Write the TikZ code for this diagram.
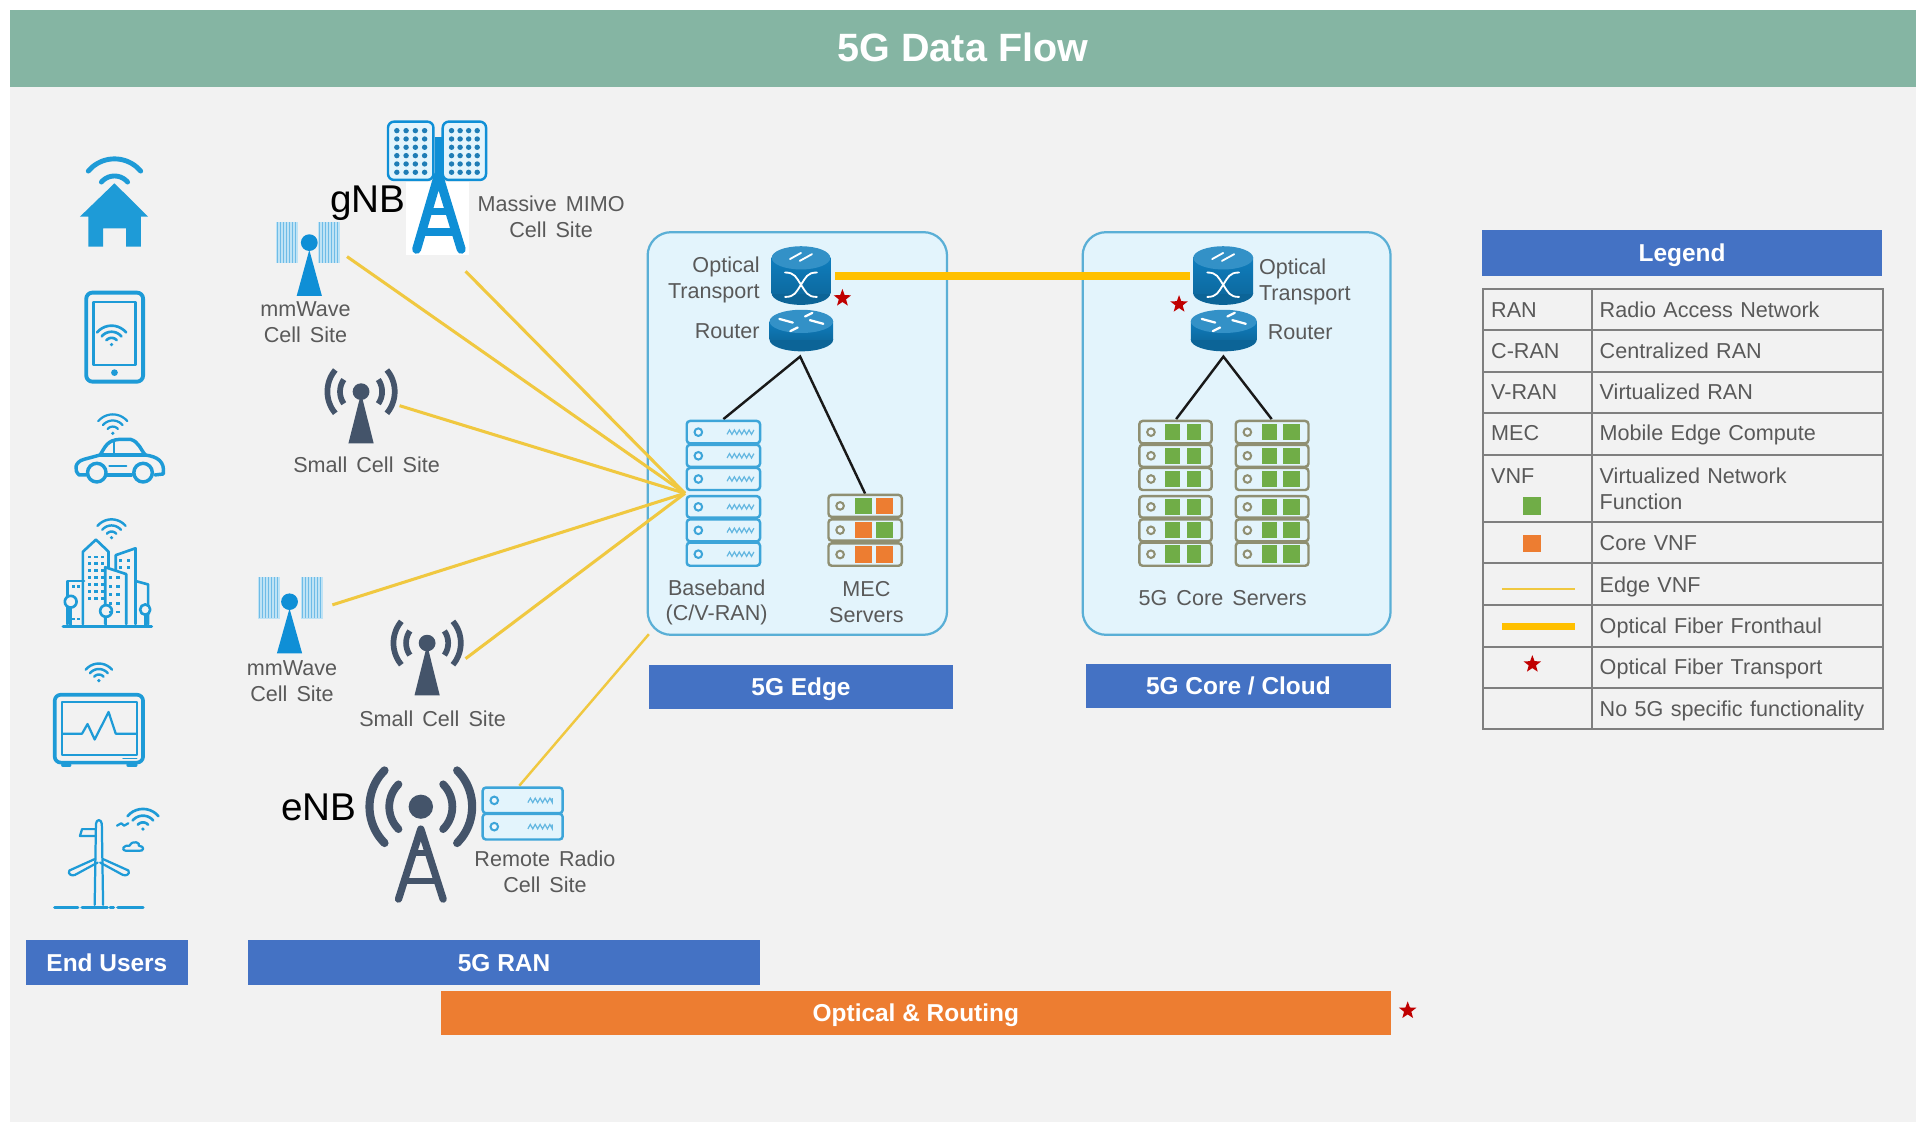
\documentclass[tikz,border=0pt]{standalone}
\usepackage{fontspec}
\setmainfont{Liberation Sans}
\usetikzlibrary{shapes.geometric}
\definecolor{bgc}{HTML}{F2F2F2}
\definecolor{headc}{HTML}{85B5A3}
\definecolor{sect}{HTML}{4472C4}
\definecolor{orng}{HTML}{ED7D31}
\definecolor{grn}{HTML}{70AD47}
\definecolor{icb}{HTML}{1E9BD7}
\definecolor{twr}{HTML}{0F8FD6}
\definecolor{cyl}{HTML}{0F7DBD}
\definecolor{slatec}{HTML}{44546A}
\definecolor{lblc}{HTML}{595959}
\definecolor{boxf}{HTML}{E3F4FC}
\definecolor{boxd}{HTML}{5AAFD6}
\definecolor{fanc}{HTML}{F0C840}
\definecolor{fibre}{HTML}{FFC000}
\definecolor{starc}{HTML}{C00000}
\definecolor{gridc}{HTML}{7F7F7F}
\definecolor{srvg}{HTML}{8F8F72}
\definecolor{srvb}{HTML}{3DA5D9}
\definecolor{panelc}{HTML}{BFE3F5}
\newcommand\lblfont{\fontsize{10.6}{12.6}\selectfont\spaceskip=.42em plus .1em\relax}
\newcommand\lgfont{\fontsize{10.6}{12.6}\selectfont\spaceskip=.34em plus .1em\relax}
\newcommand\sectbox[7]{\fill[#6] (#2,#3) rectangle (#4,#5) node[midway,sectlbl] (#1) {#7};}
% arc in the current xy system (y pointing down)
\newcommand\arcq[7][]{\draw[#1] plot[domain=#6:#7,samples=11,smooth] ({#2+#4*cos(\x)},{#3-#5*sin(\x)});}
\newcommand\wifiicon[4]{\foreach \rr in {#3}{\arcq[icb,line width=#4,line cap=round]{#1}{#2}{\rr}{\rr}{40}{140}}\fill[icb] (#1,#2) circle[radius=1.5];}
% server row: x1,y1,x2,y2,colour
\newcommand\srow[5]{\draw[#5,line width=1.2pt,rounded corners=1.6pt,fill=boxf] (#1,#2) rectangle (#3,#4);
  \draw[#5,line width=1pt,fill=white!40!boxf] ({#1+9.5},{(#2+#4)/2}) circle[radius=3.1];}
\newcommand\squig[3]{\draw[srvb!80,line width=.6pt] (#1,{#3+1.8}) -- ++(2,-3.6) -- ++(2,3.6) -- ++(2,-3.6) -- ++(2,3.6) -- ++(2,-3.6) -- ++(2,3.6) -- ++(2,-3.6) -- ++(2,3.6) -- ++(2,-3.6) -- ++(2,3.6) -- (#2,{#3-1.8});}
\newcommand\sq[5]{\fill[#5] (#1,{#2}) rectangle (#3,{#4});}
\newcommand\cylin[6]{\fill[#6!80!black] (#1,#3) ellipse[x radius=#4,y radius=#5];
  \shade[top color=#6,bottom color=#6!85!black] ({#1-#4},#2) rectangle ({#1+#4},#3);
  \fill[#6!85!white] (#1,#2) ellipse[x radius=#4,y radius=#5];}
\newcommand\opticalmark[2]{\begin{scope}[shift={(#1,#2)},white,line width=.9pt,line cap=round]
  \draw (-9,-24) -- (0,-29); \draw (-1,-22.5) -- (9,-28);
  \draw (-13,-13) .. controls (-5,-13) and (-4,-9) .. (0,-3) .. controls (4,3) and (5,7) .. (13,7);
  \draw (13,-13) .. controls (5,-13) and (4,-9) .. (0,-3) .. controls (-4,3) and (-5,7) .. (-13,7);
  \end{scope}}
\newcommand\routermark[2]{\begin{scope}[shift={(#1,#2)},white,line width=1.1pt,line cap=round]
  \draw (-18,-2) -- (-7,1); \draw (18,2) -- (7,-1); \draw (-3,5) -- (-9,8); \draw (3,-4) -- (9,-7);
  \end{scope}}
\tikzset{
  lbl/.style={font=\lblfont,text=lblc,align=center,inner sep=0},
  lgl/.style={font=\lgfont,text=lblc,inner sep=0,anchor=base west,yshift=-3.5pt},
  sectlbl/.style={font=\fontsize{12}{14}\selectfont\bfseries,text=white,inner sep=0,text height=.72em,text depth=.2em,yshift=-1.7pt},
  fanline/.style={fanc,line width=1.5pt},
  fibreline/.style={fibre,line width=4pt},
  linkline/.style={black!90,line width=1.2pt},
  cellbox/.style={draw=boxd,fill=boxf,line width=1.1pt,rounded corners=11.5pt},
  gridline/.style={gridc,line width=1pt},
  redstar/.style={star,star points=5,star point ratio=2.4,fill=starc,inner sep=0,minimum size=9pt},
  bignb/.style={font=\fontsize{19}{22}\selectfont,text=black,inner sep=0},
  iconline/.style={icb,line width=1.7pt,line cap=round,line join=round},
}
\begin{document}
\begin{tikzpicture}[x=0.6pt,y=-0.6pt]
\useasboundingbox (0,0) rectangle (1568,918);
\fill[white] (0,0) rectangle (1568,918);
\fill[bgc] (8,8) rectangle (1568,918);
\fill[headc] (8,8) rectangle (1568,71) node[midway,yshift=.5pt,font=\fontsize{19.4}{22}\selectfont\bfseries,text=white,inner sep=0] (title) {5G Data Flow};

% bars
\sectbox{endusers}{21}{769}{154}{806}{sect}{End Users}
\sectbox{ranbar}{203}{769}{622}{806}{sect}{5G RAN}
\sectbox{optbar}{361}{811}{1138}{847}{orng}{Optical \& Routing}
\sectbox{edgebar}{531}{544}{780}{580}{sect}{5G Edge}
\sectbox{corebar}{889}{543}{1138}{579}{sect}{5G Core / Cloud}
\sectbox{legendbar}{1213}{188}{1540}{226}{sect}{Legend}
\node[redstar] (starbar) at (1152,827) {};

% cloud boxes
\draw[cellbox] (530,190) rectangle (775,519.5);
\draw[cellbox] (886,190) rectangle (1138,519.5);

% fan-in lines
\coordinate (fan) at (560.6,403.7);
\coordinate (mm1) at (284,210);
\coordinate (mimo) at (381,222);
\coordinate (sc1) at (327,332);
\coordinate (mm2) at (272,495);
\coordinate (sc2) at (381,539);
\coordinate (rrh) at (425,643);
\coordinate (edgecorner) at (531,519);
\foreach \s in {mm1,mimo,sc1,mm2,sc2} {\draw[fanline] (\s) -- (fan);}
\draw[fanc,line width=1.2pt] (rrh) -- (edgecorner);

% ---------- icons of upper zoom ----------
\begin{scope}[shift={(0,81.8)},x=0.20664pt,y=-0.16368pt]
  % house
  \fill[icb] (272,250) -- (190,350) -- (210,350) -- (210,440) -- (245,440) -- (245,385) -- (300,385) -- (300,440) -- (335,440) -- (335,350) -- (352,350) -- cycle;
  % phone
  \draw[iconline,line width=1.9pt,rounded corners=3pt] (205,578) rectangle (340,845);
  \draw[iconline,line width=1.1pt] (222,605) rectangle (322,795);
  \fill[icb] (272,818) ellipse[x radius=8,y radius=10];
  % car
  \draw[iconline] (205,1125) -- (188,1125) .. controls (175,1110) and (178,1085) .. (200,1078) -- (238,1065) .. controls (250,1040) and (255,1020) .. (285,1018) -- (310,1018) .. controls (330,1025) and (335,1050) .. (345,1065) .. controls (375,1070) and (392,1085) .. (388,1122) -- (368,1125);
  \draw[iconline] (255,1125) -- (312,1125);
  \draw[iconline] (238,1065) -- (345,1065);
  \draw[iconline,line width=1pt] (270,1022) -- (270,1062);
  \draw[iconline,line width=1.2pt] (260,1098) -- (300,1098);
  \draw[iconline] (230,1118) ellipse[x radius=22,y radius=28];
  \draw[iconline] (340,1118) ellipse[x radius=22,y radius=28];
  % gNB MIMO
  \fill[white] (965,245) rectangle (1115,465);
  \draw[twr,line width=3pt] (1042,110) -- (1042,215);
  \foreach \a/\b in {922/1030,1052/1155} {
    \draw[twr,line width=1.2pt,rounded corners=3pt,fill=boxf] (\a,65) rectangle (\b,240);
    \foreach \c in {0,1,2,3} \foreach \d in {0,...,5}
      \fill[twr!70!slatec] ({\a+21+\c*(\b-\a-42)/3},{92+\d*25}) ellipse[x radius=6.5,y radius=8];
  }
  \draw[twr,line width=4.4pt,line cap=round,line join=round] (990,448) -- (1042,225) -- (1096,448);
  \draw[twr,line width=3.2pt] (1012,335) -- (1072,335);
  \draw[twr,line width=3.8pt] (1000,395) -- (1084,395);
  % mmWave 1
  \foreach \a/\b in {655/708,755/808} {
    \fill[panelc] (\a,365) rectangle (\b,490);
    \foreach \c in {0,...,6} \draw[twr!60,line width=.3pt] ({\a+4+\c*7},367) -- ++(0,121);
  }
  \fill[twr] (735,450) -- (705,588) -- (765,588) -- cycle;
  \fill[twr] (735,428) ellipse[x radius=20,y radius=25];
  % small cell 1
  \fill[slatec] (858,880) -- (828,1030) -- (888,1030) -- cycle;
  \fill[slatec] (858,875) ellipse[x radius=20,y radius=25];
  \arcq[slatec,line width=2.8pt]{858}{875}{50}{63}{-35}{35}
  \arcq[slatec,line width=2.8pt]{858}{875}{50}{63}{145}{215}
  \arcq[slatec,line width=2.8pt]{858}{875}{80}{101}{-40}{40}
  \arcq[slatec,line width=2.8pt]{858}{875}{80}{101}{140}{220}
\end{scope}
\wifiicon{93.7}{158}{14,28}{2.4pt}
\wifiicon{91.3}{282}{5.5,10.5,15.5}{1.3pt}
\wifiicon{92.3}{354.6}{5.5,10.5,15.5}{1.1pt}

% ---------- icons of lower zoom ----------
\begin{scope}[shift={(0,409.2)},x=0.20664pt,y=-0.1692pt]
  % city
  \begin{scope}[iconline,line width=1.3pt]
    \draw[line width=1.6pt] (150,368) -- (360,368);
    \draw (160,360) -- (160,235) -- (200,235);
    \draw (197,360) -- (197,150) -- (228,115) -- (258,150) -- (258,195);
    \draw (250,360) -- (250,195) -- (300,215) -- (300,360);
    \draw (275,205) -- (275,160) -- (322,140) -- (322,360);
    \draw (322,235) -- (352,245) -- (352,360);
    \draw[fill=bgc] (168,295) ellipse[x radius=14,y radius=17]; \draw (168,312) -- (168,362);
    \draw[fill=bgc] (252,322) ellipse[x radius=14,y radius=17]; \draw (252,339) -- (252,362);
    \draw[fill=bgc] (345,318) ellipse[x radius=12,y radius=15]; \draw (345,333) -- (345,362);
    \foreach \u in {212,228,244} \foreach \v in {165,185,205,225,245,265,285} \fill[icb] (\u-4,\v-4) rectangle ++(8,8);
    \foreach \u in {262,280} \foreach \v in {225,250,275,300,325} \fill[icb] (\u-4,\v-4) rectangle ++(8,8);
    \foreach \u in {286,306} \foreach \v in {175,195} \fill[icb] (\u-4,\v-4) rectangle ++(8,8);
    \foreach \u in {174,186} \foreach \v in {250,345} \fill[icb] (\u-4,\v-4) rectangle ++(8,8);
  \end{scope}
  % monitor
  \draw[iconline,line width=1.8pt,rounded corners=3pt] (130,565) rectangle (340,762);
  \draw[iconline,line width=1pt] (148,585) rectangle (325,740);
  \draw[iconline,line width=1.1pt] (150,678) -- (195,678) -- (208,650) -- (225,695) -- (258,615) -- (275,678) -- (324,678);
  \draw[iconline,line width=2pt] (150,770) -- (165,770); \draw[iconline,line width=2pt] (305,770) -- (322,770);
  \draw[iconline,line width=.6pt] (292,750) -- (325,750);
  % wind turbine
  \begin{scope}[iconline,line width=1.1pt]
    \draw (225,1175) -- (228,940) .. controls (229,925) and (241,925) .. (242,940) -- (245,1175);
    \draw (225,1042) -- (165,1075) .. controls (160,1085) and (170,1092) .. (178,1088) -- (232,1052);
    \draw (245,1042) -- (305,1075) .. controls (310,1085) and (300,1092) .. (292,1088) -- (238,1052);
    \draw (228,955) -- (195,955) -- (190,975) -- (228,975);
    \draw (300,1018) .. controls (285,1015) and (295,1000) .. (308,1003) .. controls (315,985) and (335,995) .. (330,1003) .. controls (345,1005) and (342,1020) .. (330,1018) -- cycle;
    \draw (278,945) -- (288,938) -- (295,945) -- (305,938);
  \end{scope}
  \foreach \a/\b in {130/185,195/255,262/270,280/340} \draw[iconline,line width=1.6pt] (\a,1182) -- (\b,1182);
  % mmWave 2
  \foreach \a/\b in {612/665,715/768} {
    \fill[panelc] (\a,222) rectangle (\b,345);
    \foreach \c in {0,...,6} \draw[twr!60,line width=.3pt] ({\a+4+\c*7},224) -- ++(0,119);
  }
  \fill[twr] (688,315) -- (658,445) -- (718,445) -- cycle;
  \fill[twr] (688,295) ellipse[x radius=20,y radius=24];
  % small cell 2
  \fill[slatec] (1015,420) -- (985,567) -- (1045,567) -- cycle;
  \fill[slatec] (1015,415) ellipse[x radius=20,y radius=24];
  \arcq[slatec,line width=2.8pt]{1015}{415}{50}{61}{-35}{35}
  \arcq[slatec,line width=2.8pt]{1015}{415}{50}{61}{145}{215}
  \arcq[slatec,line width=2.8pt]{1015}{415}{80}{98}{-40}{40}
  \arcq[slatec,line width=2.8pt]{1015}{415}{80}{98}{140}{220}
  % eNB
  \fill[slatec] (1000,890) ellipse[x radius=29,y radius=35];
  \draw[slatec,line width=3.6pt,line cap=round,line join=round] (947,1158) -- (1000,955) -- (1053,1158);
  \draw[slatec,line width=3pt] (975,1025) -- (1025,1025);
  \draw[slatec,line width=3pt] (960,1105) -- (1040,1105);
  \arcq[slatec,line width=3.8pt,line cap=round]{1000}{890}{75}{92}{-45}{45}
  \arcq[slatec,line width=3.8pt,line cap=round]{1000}{890}{75}{92}{135}{225}
  \arcq[slatec,line width=4pt,line cap=round]{1000}{890}{122}{149}{-45}{45}
  \arcq[slatec,line width=4pt,line cap=round]{1000}{890}{122}{149}{135}{225}
\end{scope}
\wifiicon{91.3}{440}{5,10,15}{1.2pt}
\wifiicon{80.9}{557}{5,9.5,14}{1.2pt}
\wifiicon{117}{678.5}{5.5,11,16.5}{1.3pt}

% remote radio unit
\srow{395}{644.5}{460.5}{665.5}{srvb}
\srow{395}{666}{460.5}{687}{srvb}
\squig{432}{452}{655}
\squig{432}{452}{676.5}

% labels RAN
\node[bignb] (gnb) at (301,166) {gNB};
\node[bignb] (enb) at (261,661) {eNB};
\node[lbl] (l1) at (451,177.5) {Massive MIMO\\Cell Site};
\node[lbl] (l2) at (250,263.5) {mmWave\\Cell Site};
\node[lbl] (l3) at (300,380) {Small Cell Site};
\node[lbl] (l4) at (239,557.5) {mmWave\\Cell Site};
\node[lbl] (l5) at (354,588) {Small Cell Site};
\node[lbl] (l6) at (446,713.5) {Remote Radio\\Cell Site};

% edge: router and servers
\coordinate (edgertr) at (654.8,291.8);
\coordinate (bbtop) at (592,343);
\coordinate (mectop) at (708,404);
\draw[linkline] (bbtop) -- (edgertr) -- (mectop);
\foreach \a/\b in {344.5/362.8,364/382,383/401,406/423.6,425/443,444/463} {
  \srow{562}{\a}{622}{\b}{srvb}
  \squig{595}{617}{(\a+\b)/2}
}
\foreach \a/\b/\c/\d in {405/423/grn/orng,425/442.5/orng/grn,444.6/463/orng/orng} {
  \srow{678}{\a}{738}{\b}{srvg}
  \sq{699.8}{\a+2.4}{713.4}{\b-2.4}{\c}
  \sq{717}{\a+2.4}{730.6}{\b-2.4}{\d}
}
\cylin{655.5}{211}{240}{24}{9.5}{cyl}
\opticalmark{655.5}{236}
\cylin{655.8}{263}{278}{26}{9.5}{cyl}
\routermark{655.8}{263}
\node[lbl,anchor=east,align=right] (eo) at (622,229) {Optical\\Transport};
\node[lbl,anchor=east] (er) at (622,271) {Router};
\node[lbl] (bb) at (586.5,493) {Baseband\\(C/V-RAN)};
\node[lbl] (me) at (709,492.5) {MEC\\Servers};

% core: router and servers
\coordinate (corertr) at (1001.2,291.8);
\coordinate (cstop1) at (962.5,343);
\coordinate (cstop2) at (1040.7,343);
\draw[linkline] (cstop1) -- (corertr) -- (cstop2);
\foreach \a/\b in {344.5/362.8,364/382,383/401,406/423.6,425/443,444/463} {
  \srow{932.4}{\a}{991.6}{\b}{srvg}
  \sq{953.4}{\a+2.4}{965.7}{\b-2.4}{grn}
  \sq{971}{\a+2.4}{983}{\b-2.4}{grn}
  \srow{1011.3}{\a}{1070.8}{\b}{srvg}
  \sq{1032.6}{\a+2.4}{1044.8}{\b-2.4}{grn}
  \sq{1050.3}{\a+2.4}{1064}{\b-2.4}{grn}
}
\cylin{1001}{211}{240}{24.5}{9.5}{cyl}
\opticalmark{1001}{236}
\cylin{1001.5}{263}{278}{27}{9.5}{cyl}
\routermark{1001.5}{263}
\node[lbl,align=left,anchor=west] (co) at (1030,230.5) {Optical\\Transport};
\node[lbl] (cr) at (1064,272) {Router};
\node[lbl] (cs) at (1000.6,489.6) {5G Core Servers};

% optical fibre between both
\coordinate (fibreA) at (683.4,226);
\coordinate (fibreB) at (974,226);
\draw[fibreline] (fibreA) -- (fibreB);
\node[redstar] (staredge) at (689.4,244) {};
\node[redstar] (starcore) at (964.9,249) {};

% legend table
\draw[gridline] (1213.4,236.7) rectangle (1540.7,596.6);
\draw[gridline] (1302.6,236.7) -- (1302.6,596.6);
\foreach \y in {270,304.7,337.7,372.3,427.4,461,495,529.2,562.7} \draw[gridline] (1213.4,\y) -- (1540.7,\y);
\node[lgl] (t1) at (1220,254) {RAN};
\node[lgl] (t2) at (1220,287.8) {C-RAN};
\node[lgl] (t3) at (1220,321.3) {V-RAN};
\node[lgl] (t4) at (1220,354.6) {MEC};
\node[lgl] (t5) at (1220,389.5) {VNF};
\node[lgl] (d1) at (1308.8,254) {Radio Access Network};
\node[lgl] (d2) at (1308.8,287.8) {Centralized RAN};
\node[lgl] (d3) at (1308.8,321.3) {Virtualized RAN};
\node[lgl] (d4) at (1308.8,354.6) {Mobile Edge Compute};
\node[lgl] (d5) at (1308.8,389.5) {Virtualized Network};
\node[lgl] (d5b) at (1308.8,411.5) {Function};
\node[lgl] (d6) at (1308.8,444.6) {Core VNF};
\node[lgl] (d7) at (1308.8,478.7) {Edge VNF};
\node[lgl] (d8) at (1308.8,512.3) {Optical Fiber Fronthaul};
\node[lgl] (d9) at (1308.8,546.4) {Optical Fiber Transport};
\node[lgl] (d10) at (1308.8,580.5) {No 5G specific functionality};
\fill[grn] (1246.6,406.4) rectangle (1261,421.4);
\fill[orng] (1246.6,437.8) rectangle (1261,451.4);
\coordinate (lgA) at (1229,482.3); \coordinate (lgB) at (1289,482.3);
\draw[fanc,line width=1.1pt] (lgA) -- (lgB);
\coordinate (lgC) at (1229,512.8); \coordinate (lgD) at (1289,512.8);
\draw[fibre,line width=3.6pt] (lgC) -- (lgD);
\node[redstar] (starleg) at (1254,543.6) {};
\end{tikzpicture}
\end{document}
